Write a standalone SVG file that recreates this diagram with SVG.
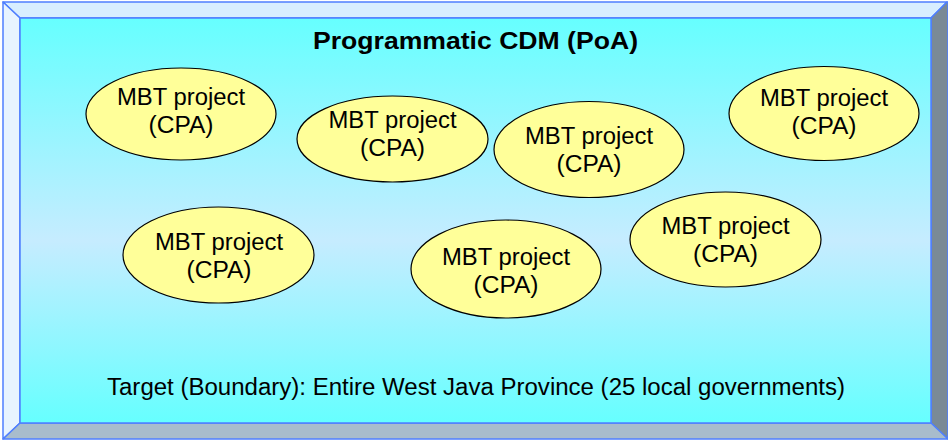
<svg xmlns="http://www.w3.org/2000/svg" width="948" height="440" viewBox="0 0 948 440">
  <defs>
    <linearGradient id="face" x1="0" y1="0" x2="0" y2="1">
      <stop offset="0" stop-color="#66ffff"/>
      <stop offset="0.55" stop-color="#c6ecff"/>
      <stop offset="1" stop-color="#66ffff"/>
    </linearGradient>
  </defs>
  <style>
    .edge { stroke: #4f7fff; stroke-width: 1.5; stroke-linejoin: round; }
    .node ellipse { fill: #ffff99; stroke: #000000; stroke-width: 1.2; }
    .node text { font-family: "Liberation Sans", Arial, sans-serif; font-size: 23px; fill: #000000; text-anchor: middle; }
    .title { font-family: "Liberation Sans", Arial, sans-serif; font-size: 23.5px; font-weight: bold; fill: #000000; text-anchor: middle; }
    .foot { font-family: "Liberation Sans", Arial, sans-serif; font-size: 23.5px; fill: #000000; text-anchor: middle; }
  </style>
  <rect width="948" height="440" fill="#ffffff"/>
  <g id="frame">
    <polygon class="edge" points="3,2 947,2 931,18 20,18" fill="#d8eeff"/>
    <polygon class="edge" points="3,2 20,18 20,423 3,439" fill="#e8f4ff"/>
    <polygon class="edge" points="947,2 948,2 948,439 931,423 931,18" fill="#7a8a96"/>
    <polygon class="edge" points="3,439 20,423 931,423 948,439" fill="#a8bccc"/>
    <rect class="edge" x="20" y="18" width="911" height="405" fill="url(#face)"/>
    <text class="title" x="475.5" y="49" textLength="325" lengthAdjust="spacingAndGlyphs">Programmatic CDM (PoA)</text>
    <text class="foot" x="476" y="395" textLength="738" lengthAdjust="spacingAndGlyphs">Target (Boundary): Entire West Java Province (25 local governments)</text>
  </g>
  <g id="connectors"/>
  <g id="cpa1" class="node">
    <ellipse cx="181" cy="114" rx="95" ry="46"/>
    <text x="181" y="105" textLength="128" lengthAdjust="spacingAndGlyphs">MBT project</text>
    <text x="181" y="133" textLength="65" lengthAdjust="spacingAndGlyphs">(CPA)</text>
  </g>
  <g id="cpa2" class="node">
    <ellipse cx="392.5" cy="139" rx="95.5" ry="43"/>
    <text x="392.5" y="128" textLength="128" lengthAdjust="spacingAndGlyphs">MBT project</text>
    <text x="392.5" y="156" textLength="65" lengthAdjust="spacingAndGlyphs">(CPA)</text>
  </g>
  <g id="cpa3" class="node">
    <ellipse cx="589" cy="149.5" rx="95" ry="48"/>
    <text x="589" y="144" textLength="128" lengthAdjust="spacingAndGlyphs">MBT project</text>
    <text x="589" y="172" textLength="65" lengthAdjust="spacingAndGlyphs">(CPA)</text>
  </g>
  <g id="cpa4" class="node">
    <ellipse cx="824" cy="113.5" rx="95" ry="47"/>
    <text x="824" y="106" textLength="128" lengthAdjust="spacingAndGlyphs">MBT project</text>
    <text x="824" y="134" textLength="65" lengthAdjust="spacingAndGlyphs">(CPA)</text>
  </g>
  <g id="cpa5" class="node">
    <ellipse cx="218.5" cy="255" rx="95.5" ry="48"/>
    <text x="219" y="250" textLength="128" lengthAdjust="spacingAndGlyphs">MBT project</text>
    <text x="219" y="278" textLength="65" lengthAdjust="spacingAndGlyphs">(CPA)</text>
  </g>
  <g id="cpa6" class="node">
    <ellipse cx="506" cy="269" rx="95" ry="49"/>
    <text x="506" y="265" textLength="128" lengthAdjust="spacingAndGlyphs">MBT project</text>
    <text x="506" y="293" textLength="65" lengthAdjust="spacingAndGlyphs">(CPA)</text>
  </g>
  <g id="cpa7" class="node">
    <ellipse cx="725.5" cy="239.5" rx="95.5" ry="47.5"/>
    <text x="725.5" y="234" textLength="128" lengthAdjust="spacingAndGlyphs">MBT project</text>
    <text x="725.5" y="262" textLength="65" lengthAdjust="spacingAndGlyphs">(CPA)</text>
  </g>
</svg>
